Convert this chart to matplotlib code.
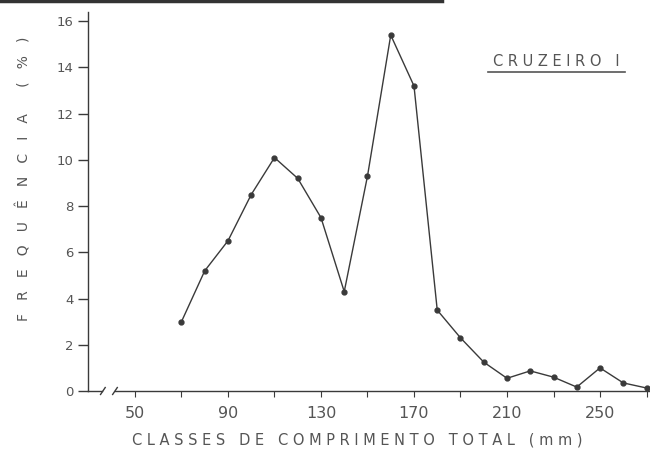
import matplotlib
matplotlib.use('Agg')
import matplotlib.pyplot as plt
from matplotlib.lines import Line2D

# length classes (mm) and frequency (%)
classes = [70, 80, 90, 100, 110, 120, 130, 140, 150, 160, 170,
           180, 190, 200, 210, 220, 230, 240, 250, 260, 270]
freq = [3.0, 5.2, 6.5, 8.5, 10.1, 9.2, 7.5, 4.3, 9.3, 15.4, 13.2,
        3.5, 2.3, 1.25, 0.55, 0.87, 0.6, 0.17, 1.0, 0.35, 0.13]

x_major = [50, 90, 130, 170, 210, 250]
x_minor = [70, 110, 150, 190, 230, 270]
y_ticks = [0, 2, 4, 6, 8, 10, 12, 14, 16]

ink = '#3a3a3a'
txt = '#555555'

fig = plt.figure(figsize=(6.5, 4.5), dpi=100)
fig.patch.set_facecolor('white')
ax = fig.add_axes([88 / 650, 1 - 391 / 450, 1 - 88 / 650, 379 / 450])

ax.plot(classes, freq, color=ink, linewidth=1.0, marker='o', markersize=3.5,
        markerfacecolor=ink, markeredgecolor=ink, clip_on=False, zorder=3)

ax.set_xlim(29.8, 271.5)
ax.set_ylim(0, 16.4)

for side in ['top', 'right', 'bottom']:
    ax.spines[side].set_visible(False)
ax.spines['left'].set_color(ink)
ax.spines['left'].set_linewidth(1.0)

# broken x axis line
ax.plot([29.8, 36.0], [0, 0], color=ink, lw=1.0, clip_on=False)
ax.plot([41.2, 271.5], [0, 0], color=ink, lw=1.0, clip_on=False)
for bx in [36.2, 41.4]:
    ax.plot([bx - 1.0, bx + 1.0], [-0.15, 0.15], color=ink, lw=1.0, clip_on=False)

ax.set_yticks(y_ticks)
ax.set_yticklabels([str(v) for v in y_ticks])
ax.tick_params(axis='y', direction='out', length=7, width=1.0, color=ink,
               labelsize=9.5, labelcolor=txt, pad=3.5)

ax.set_xticks(x_major)
ax.set_xticklabels([str(v) for v in x_major])
ax.set_xticks(x_minor, minor=True)
ax.tick_params(axis='x', which='major', direction='out', length=4, width=0.8,
               color=ink, labelsize=11.5, labelcolor=txt, pad=7)
ax.tick_params(axis='x', which='minor', direction='out', length=4, width=0.8,
               color=ink)

fig.text(357 / 650, 1 - 440 / 450,
         '   '.join(' '.join(w) for w in 'CLASSES DE COMPRIMENTO TOTAL (mm)'.split()),
         ha='center', va='center', fontsize=10.5, color=txt)

fig.text(24 / 650, 1 - 179 / 450,
         '      '.join('   '.join(w) for w in ['FREQUÊNCIA', '(%)']),
         ha='center', va='center', rotation=90, fontsize=10, color=txt)

fig.text(556 / 650, 1 - 62 / 450, ' '.join('CRUZEIRO') + '   I',
         ha='center', va='center', fontsize=10.5, color=txt)
fig.add_artist(Line2D([488 / 650, 625 / 650], [1 - 72 / 450, 1 - 72 / 450],
                      color=txt, lw=1.2))

# dark scan edge at the top
fig.add_artist(Line2D([0, 0.68], [0.998, 0.998], color='#333333', lw=2.5))

fig.savefig('out.png', dpi=100, facecolor='white')
